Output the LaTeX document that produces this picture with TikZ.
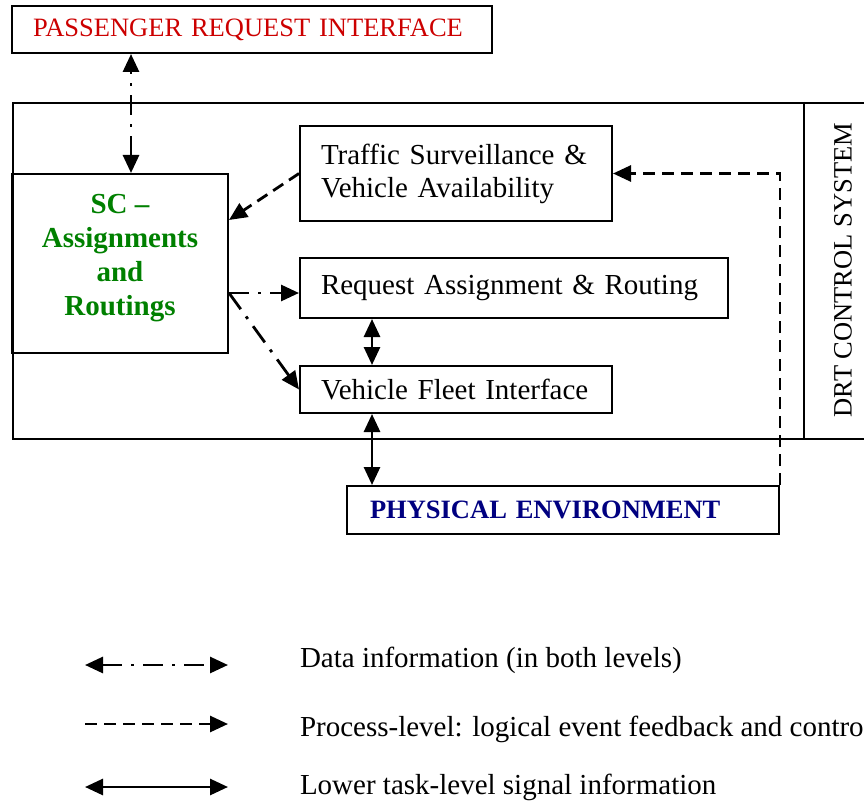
\documentclass[tikz,border=0pt]{standalone}
\usepackage{fontspec}
\setmainfont{Liberation Serif}
\usepackage{xcolor}
\usetikzlibrary{arrows.meta,positioning}
\definecolor{reqred}{RGB}{204,0,0}
\definecolor{scgreen}{RGB}{0,128,0}
\definecolor{envnavy}{RGB}{0,0,128}

\begin{document}
\begin{tikzpicture}[x=1pt, y=-1pt, line width=2pt,
    box/.style={draw, line width=2pt, inner sep=0pt},
    leftbox/.style={box, align=left, font=\fontsize{29}{33}\selectfont},
    datadash/.style={line width=2.8pt, dash pattern=on 20pt off 9pt on 3pt off 9pt},
    datalink/.style={datadash, {Triangle[length=18pt,width=16pt]}-{Triangle[length=18pt,width=16pt]}},
    dataarrow/.style={datadash, -{Triangle[length=18pt,width=16pt]}},
    ctrllink/.style={-{Triangle[length=18pt,width=16pt]}, line width=2.8pt, dash pattern=on 12pt off 7pt},
    tasklink/.style={{Triangle[length=18pt,width=16pt]}-{Triangle[length=18pt,width=16pt]}, line width=2.8pt}]
  \clip (0,0) rectangle (864,802);
  % boxes
  \node[box, minimum width=480pt, minimum height=47pt, text width=438pt, align=left,
    font=\fontsize{26.5}{30}\selectfont, text=reqred] (pri) at (252,29.5) {PASSENGER REQUEST INTERFACE};
  \node[box, anchor=north west, minimum width=900pt, minimum height=336pt] (drt) at (12,102) {};
  \draw (804,102) -- (804,438);
  \node[rotate=90, font=\fontsize{26.5}{30}\selectfont] (drtlabel) at (843,270) {DRT CONTROL SYSTEM};
  \node[box, minimum width=216pt, minimum height=179pt, align=center, text=scgreen, text depth=17pt,
    font=\fontsize{29}{34}\bfseries\selectfont] (sc) at (120,263.5) {SC --\\Assignments\\and\\Routings};
  \node[leftbox, minimum width=312pt, minimum height=95pt, text width=270pt] (ts) at (456,173.5)
    {Traffic Surveillance \&\\Vehicle Availability};
  \node[leftbox, minimum width=428pt, minimum height=60pt, text width=386pt] (ra) at (514,288)
    {Request Assignment \& Routing};
  \node[leftbox, minimum width=312pt, minimum height=47pt, text width=270pt] (vf) at (456,389.5)
    {Vehicle Fleet Interface};
  \node[box, minimum width=432pt, minimum height=48pt, text width=386pt, align=left, text=envnavy,
    font=\fontsize{26.5}{30}\bfseries\selectfont] (pe) at (563,510) {PHYSICAL ENVIRONMENT};
  % connectors
  \draw[datalink] ([xshift=11pt]sc.north) -- ([xshift=11pt]sc.north |- pri.south);
  \draw[ctrllink] (ts.west) -- ([yshift=43.5pt]sc.east);
  \coordinate (split) at ([yshift=-29.5pt]sc.east);
  \draw[dataarrow] (split) -- (split -| ra.west);
  \draw[dataarrow] (split) -- (vf.west);
  \draw[tasklink] ([xshift=-84pt]vf.north) -- ([xshift=-84pt]vf.north |- ra.south);
  \draw[tasklink] ([xshift=-84pt]vf.south) -- ([xshift=-84pt]vf.south |- pe.north);
  \draw[ctrllink] (pe.north east) |- (ts.east);
  % legend
  \coordinate (d1) at (85,665); \coordinate (d2) at (228,665);
  \coordinate (c1) at (85,724); \coordinate (c2) at (228,724);
  \coordinate (t1) at (85,787); \coordinate (t2) at (228,787);
  \draw[datalink] (d1) -- (d2);
  \draw[ctrllink] (c1) -- (c2);
  \draw[tasklink] (t1) -- (t2);
  \node[anchor=west, inner sep=0pt, font=\fontsize{29}{33}\selectfont] (dtext) at (299,660) {Data information (in both levels)};
  \node[anchor=west, inner sep=0pt, font=\fontsize{29}{33}\selectfont] (ctext) at (299,729) {Process-level: logical event feedback and control};
  \node[anchor=west, inner sep=0pt, font=\fontsize{29}{33}\selectfont] (ttext) at (299,787) {Lower task-level signal information};
\end{tikzpicture}
\end{document}
